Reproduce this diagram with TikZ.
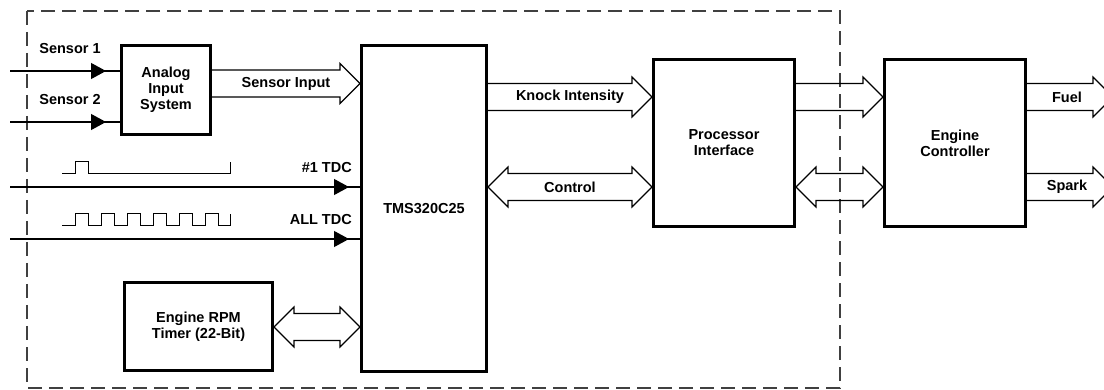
\documentclass[tikz,border=0pt]{standalone}
\usepackage{fontspec}
\setmainfont{Liberation Sans}
\usetikzlibrary{arrows.meta, calc}

% bus arrow sizes
\newcommand{\busw}{13.5}
\newcommand{\bush}{20}
\newcommand{\busl}{20}

\newcommand{\busone}[3]{%
  \draw[bus] ($(#1)+(0,-\busw)$) -- ($(#2)+(-\busl,-\busw)$) -- ($(#2)+(-\busl,-\bush)$) -- (#2)
    -- ($(#2)+(-\busl,\bush)$) -- ($(#2)+(-\busl,\busw)$) -- ($(#1)+(0,\busw)$);
  \node[lbl] at ($(#1)!0.5!(#2)$) {#3};}

\newcommand{\bustwo}[3]{%
  \draw[bus] (#1) -- ($(#1)+(\busl,-\bush)$) -- ($(#1)+(\busl,-\busw)$) -- ($(#2)+(-\busl,-\busw)$)
    -- ($(#2)+(-\busl,-\bush)$) -- (#2) -- ($(#2)+(-\busl,\bush)$) -- ($(#2)+(-\busl,\busw)$)
    -- ($(#1)+(\busl,\busw)$) -- ($(#1)+(\busl,\bush)$) -- cycle;
  \node[lbl] at ($(#1)!0.5!(#2)$) {#3};}

\begin{document}
\begin{tikzpicture}[x=1pt, y=-1pt,
    box/.style={draw, line width=3pt, align=center, inner sep=0pt, font=\fontsize{14.5}{16}\selectfont\bfseries},
    lbl/.style={font=\fontsize{14.5}{16}\selectfont\bfseries, inner sep=0pt},
    bus/.style={line width=1.1pt, line join=miter},
    sig/.style={line width=1.1pt},
    tip/.style={-{Triangle[length=15pt, width=16pt]}}]
  \useasboundingbox (0,0) rectangle (1104,390);
  \clip (0,0) rectangle (1104,390);

  % DSP board outline
  \draw[black!75, line width=1.1pt, dash pattern=on 14pt off 7pt] (27,11) rectangle (840,388);

  % blocks
  \node[box, minimum width=89, minimum height=89]  (ais) at (166,90)    {Analog\\Input\\System};
  \node[box, minimum width=125, minimum height=326] (tms) at (424,208.5) {TMS320C25};
  \node[box, minimum width=148, minimum height=88]  (rpm) at (198.5,326.5) {Engine RPM\\Timer (22-Bit)};
  \node[box, minimum width=141, minimum height=167] (pif) at (724,143)   {Processor\\Interface};
  \node[box, minimum width=141, minimum height=167] (ec)  at (955,143)   {Engine\\Controller};

  % rows
  \coordinate (s1) at (10,71);
  \coordinate (s2) at (10,122);
  \coordinate (tdc1) at (10,187);
  \coordinate (tdcall) at (10,239);
  \coordinate (r1) at (0,83.5);
  \coordinate (r2) at (0,97);
  \coordinate (r3) at (0,187);
  \coordinate (r4) at (0,327);
  \coordinate (fuel) at (1113,97);
  \coordinate (spark) at (1113,187);

  % sensor and TDC inputs
  \node[lbl] (s1l) at (70,49) {Sensor 1};
  \node[lbl] (s2l) at (70,100) {Sensor 2};
  \draw[sig] (s1) -- (ais.west |- s1);
  \draw[sig, tip] (s1) -- ($(ais.west |- s1)+(-14,0)$);
  \draw[sig] (s2) -- (ais.west |- s2);
  \draw[sig, tip] (s2) -- ($(ais.west |- s2)+(-14,0)$);

  \node[lbl, anchor=east] (t1l) at (352,168) {\#1 TDC};
  \node[lbl, anchor=east] (tal) at (352,220) {ALL TDC};
  \draw[sig] (tdc1) -- (tms.west |- tdc1);
  \draw[sig, tip] (tdc1) -- ($(tms.west |- tdc1)+(-11,0)$);
  \draw[sig] (tdcall) -- (tms.west |- tdcall);
  \draw[sig, tip] (tdcall) -- ($(tms.west |- tdcall)+(-11,0)$);

  % waveforms
  \draw[line width=1pt] (62,174) -- (75,174) -- (75,162) -- (88,162) -- (88,174) -- (230,174) -- (230,162);
  \draw[line width=1pt] (62,226) foreach \x in {75,101,127,153,179,205} {
    -- (\x,226) -- (\x,214) -- (\x+13,214) -- (\x+13,226) } -- (230,226) -- (230,214);

  % buses
  \path (ais.east |- r1) coordinate (si0) (tms.west |- r1) coordinate (si1);
  \busone{si0}{si1}{Sensor Input}
  \path (tms.east |- r2) coordinate (ki0) (pif.west |- r2) coordinate (ki1);
  \busone{ki0}{ki1}{Knock Intensity}
  \path (tms.east |- r3) coordinate (c0) (pif.west |- r3) coordinate (c1);
  \bustwo{c0}{c1}{Control}
  \path (rpm.east |- r4) coordinate (t0) (tms.west |- r4) coordinate (t1);
  \bustwo{t0}{t1}{}
  \path (pif.east |- r2) coordinate (p0) (ec.west |- r2) coordinate (p1);
  \busone{p0}{p1}{}
  \path (pif.east |- r3) coordinate (q0) (ec.west |- r3) coordinate (q1);
  \bustwo{q0}{q1}{}
  \path (ec.east |- r2) coordinate (f0);
  \busone{f0}{fuel}{}
  \node[lbl] (fl) at (1067,97) {Fuel};
  \path (ec.east |- r3) coordinate (k0);
  \busone{k0}{spark}{}
  \node[lbl] (kl) at (1067,187) {Spark};
\end{tikzpicture}
\end{document}
